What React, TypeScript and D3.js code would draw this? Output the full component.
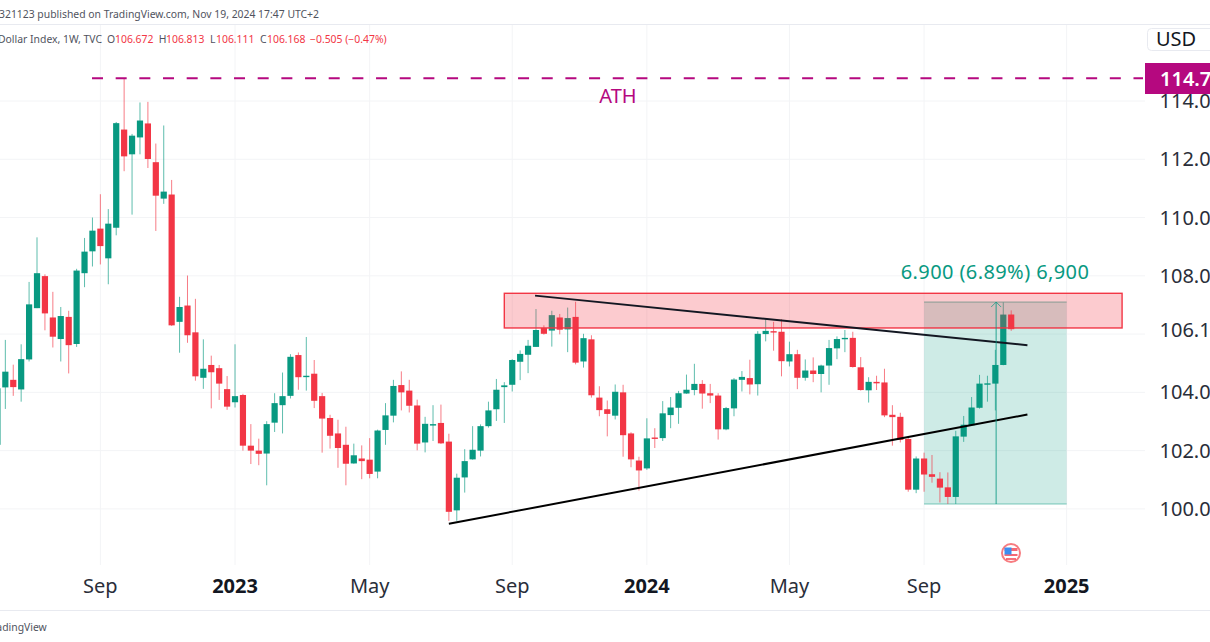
import React from 'react'
import * as d3 from 'd3'

const width = 1210
const height = 642

// weekly candles, DXY (first one is cut by the left edge)
const opens = [102.2,104.17,104.43,104.10,105.13,106.89,107.99,106.57,105.83,106.59,105.66,108.09,108.84,109.62,108.60,109.65,113.02,112.17,112.75,113.23,111.90,110.65,110.79,106.42,106.98,106.06,104.50,104.94,104.83,104.11,103.66,103.91,102.17,102.00,101.90,102.96,103.56,103.88,105.28,104.53,104.64,103.87,103.12,102.59,102.20,101.56,101.73,101.69,101.28,102.71,103.20,104.25,104.06,103.55,102.28,102.86,102.95,102.31,99.95,101.08,101.70,102.00,102.84,103.42,104.18,104.26,105.05,105.29,105.56,106.21,106.12,106.57,106.16,106.59,105.06,105.82,103.82,103.42,103.20,104.00,102.59,101.66,101.39,102.45,102.43,103.22,103.47,103.96,104.08,104.29,103.97,103.89,102.73,103.45,104.43,104.49,104.28,106.00,106.10,106.08,105.06,105.31,104.50,104.75,104.63,104.92,105.51,105.85,105.87,104.86,104.07,104.36,104.34,103.23,103.16,102.40,100.66,101.73,101.19,101.04,100.74,100.41,102.48,102.87,103.47,104.29,104.30,104.94,106.672]
const highs = [104.14,105.80,104.95,105.65,107.79,109.32,108.05,107.45,106.93,106.80,108.24,109.30,110.00,110.80,110.29,113.28,114.78,112.87,113.95,113.97,112.54,113.16,111.29,107.28,108.01,107.21,105.82,105.26,104.94,104.56,105.65,103.95,102.91,102.41,103.01,103.97,104.68,105.31,105.37,105.90,105.11,103.98,103.23,103.06,102.82,102.24,102.18,102.43,102.72,103.63,104.43,104.72,104.43,103.75,103.16,103.56,103.58,102.58,101.21,102.05,102.84,102.90,103.68,104.46,104.35,105.14,105.44,105.80,106.86,106.30,106.80,106.69,106.91,107.11,106.01,105.96,104.21,103.72,104.27,104.26,102.63,101.79,103.11,102.77,103.70,103.84,104.05,104.61,104.98,104.42,104.29,103.97,103.50,104.49,104.73,105.12,106.10,106.51,106.42,106.51,105.74,105.46,105.13,105.20,104.95,105.80,105.92,106.14,106.08,105.21,104.52,104.57,104.81,103.56,103.30,102.48,101.80,101.93,101.85,101.26,101.25,102.68,103.19,103.84,104.60,104.57,105.46,107.09,106.813]
const lows = [102.16,103.43,103.88,103.68,105.06,106.89,106.13,105.54,105.06,104.65,105.56,107.61,108.32,108.39,107.71,109.39,111.59,110.10,112.17,111.70,109.54,110.47,106.28,105.36,105.70,104.40,104.12,103.45,103.74,103.40,103.48,102.00,101.54,101.50,100.81,102.64,102.59,103.79,104.09,104.06,103.46,101.93,102.07,101.41,100.81,101.55,101.02,101.05,101.05,102.20,102.97,103.38,103.31,102.01,101.94,102.33,102.23,99.59,99.59,100.56,101.69,101.80,102.79,103.02,102.95,104.03,104.42,104.66,105.56,105.98,105.57,105.99,105.38,104.96,104.85,103.82,103.18,102.49,103.07,101.79,101.43,100.63,101.34,102.09,102.33,102.77,102.92,103.95,103.90,103.44,103.63,102.38,102.70,103.18,104.03,103.93,103.89,105.75,105.43,104.55,104.89,104.11,104.40,104.35,104.00,104.26,105.14,105.38,104.85,104.06,103.65,104.08,103.15,102.17,102.28,100.59,100.54,100.59,100.90,100.22,100.17,100.17,102.30,102.87,103.44,103.68,103.38,104.93,106.111]
const closes = [104.14,104.71,104.18,105.14,107.02,108.09,106.71,105.91,106.62,105.62,108.18,108.83,109.55,109.02,109.79,113.24,112.10,112.81,113.33,112.01,110.75,110.89,106.30,106.93,105.96,104.55,104.81,104.69,104.30,103.51,103.87,102.17,102.00,101.89,102.91,103.63,103.87,105.22,104.52,104.57,103.71,103.10,102.51,102.09,101.55,101.84,101.64,101.20,102.69,103.21,104.22,104.00,103.54,102.24,102.92,102.91,102.25,99.90,101.07,101.64,102.03,102.84,103.38,104.09,104.24,105.11,105.32,105.60,106.14,106.01,106.65,106.15,106.55,105.02,105.86,103.90,103.39,103.26,104.02,102.53,101.70,101.32,102.42,102.41,103.28,103.48,103.97,104.09,104.29,103.96,103.89,102.73,103.46,104.44,104.53,104.27,106.01,106.11,106.08,105.07,105.31,104.50,104.75,104.63,104.92,105.52,105.83,105.87,104.87,104.08,104.36,104.31,103.21,103.15,102.37,100.66,101.73,101.18,101.10,100.73,100.41,102.49,102.89,103.48,104.30,104.31,104.94,106.67,106.168]

const priceTicks = [100, 102, 104, 106, 108, 110, 112, 114]
const priceLabels = ['100.0', '102.0', '104.0', '106.1', '108.0', '110.0', '112.0', '114.0']
const priceLabelAt = [100, 102, 104, 106.13, 108, 110, 112, 114]

const timeTicks = [13, 30, 47, 65, 82, 100, 117, 135]
const timeLabels = ['Sep', '2023', 'May', 'Sep', '2024', 'May', 'Sep', '2025']

const athPrice = 114.78
const zone = { from: 64, to: 142, top: 107.4, bottom: 106.21 }
const upperTrend = [[67.88, 107.32], [130.05, 105.62]]
const lowerTrend = [[57, 99.49], [130.05, 103.24]]
const measure = { from: 117, to: 135, at: 126.1, low: 100.17, high: 107.1 }

const GREEN = '#089981'
const RED = '#f23645'
const MAGENTA = '#b5087f'
const GREY = '#50535e'
const FONT = '"Noto Sans", sans-serif'
const SMALL = 10.4

// index -> pixel, one week is 7.92px
const x = d3.scaleLinear().domain([1, 128]).range([5.33, 1011.2])
const y = d3.scaleLinear().domain([100, 114]).range([508.9, 101])
const trendLine = d3.line<number[]>().x(d => x(d[0])).y(d => y(d[1]))

export default function App() {
  const candles = d3.range(opens.length)
  const bodyW = 6.2
  return (
    <svg width={width} height={height} viewBox={`0 0 ${width} ${height}`}
      style={{ position: 'absolute', left: 0, top: 0, background: '#fff', fontFamily: FONT }}>
      <text x={-1} y={18} fontSize={SMALL} fill={GREY}>321123 published on TradingView.com, Nov 19, 2024 17:47 UTC+2</text>
      <line x1={0} x2={width} y1={24.5} y2={24.5} stroke="#e8eaf0" />

      {timeTicks.map(t => (
        <line key={t} x1={x(t)} x2={x(t)} y1={25} y2={565} stroke="#f3f4f6" />
      ))}
      {priceTicks.map(p => (
        <line key={p} x1={0} x2={1145} y1={y(p)} y2={y(p)} stroke="#f3f4f6" />
      ))}

      <text x={-2} y={42.5} fontSize={SMALL} fill={GREY}>Dollar Index, 1W, TVC</text>
      <text y={42.5} fontSize={SMALL}>
        <tspan x={107} fill={GREY}>O</tspan><tspan x={115} fill={RED}>106.672</tspan>
        <tspan x={158.7} fill={GREY}>H</tspan><tspan x={166} fill={RED}>106.813</tspan>
        <tspan x={210} fill={GREY}>L</tspan><tspan x={216} fill={RED}>106.111</tspan>
        <tspan x={260} fill={GREY}>C</tspan><tspan x={267} fill={RED}>106.168</tspan>
        <tspan x={310} fill={RED}>−0.505 (−0.47%)</tspan>
      </text>

      {/* measure box sits under the candles */}
      <rect x={x(measure.from)} width={x(measure.to) - x(measure.from)} y={y(measure.high)}
        height={y(measure.low) - y(measure.high)} fill={GREEN} fillOpacity={0.2} />
      <line x1={x(measure.from)} x2={x(measure.to)} y1={y(measure.high)} y2={y(measure.high)} stroke={GREEN} strokeOpacity={0.6} />
      <line x1={x(measure.from)} x2={x(measure.to)} y1={y(measure.low)} y2={y(measure.low)} stroke={GREEN} strokeOpacity={0.35} strokeWidth={1.5} />

      {candles.map(i => {
        const up = closes[i] >= opens[i]
        const color = up ? GREEN : RED
        const top = y(Math.max(opens[i], closes[i]))
        const bot = y(Math.min(opens[i], closes[i]))
        return (
          <g key={i}>
            <line x1={x(i)} x2={x(i)} y1={y(highs[i])} y2={y(lows[i])} stroke={color} strokeOpacity={0.65} />
            <rect x={x(i) - bodyW / 2} y={top} width={bodyW} height={Math.max(bot - top, 1.4)} fill={color} />
          </g>
        )
      })}

      <rect x={x(zone.from)} width={x(zone.to) - x(zone.from)} y={y(zone.top)} height={y(zone.bottom) - y(zone.top)}
        fill={RED} fillOpacity={0.26} stroke={RED} strokeWidth={1.4} />

      <path d={trendLine(upperTrend) ?? ''} fill="none" stroke="#131722" strokeWidth={2} />
      <path d={trendLine(lowerTrend) ?? ''} fill="none" stroke="#000" strokeWidth={2} />

      <line x1={x(measure.at)} x2={x(measure.at)} y1={y(measure.high)} y2={y(measure.low)} stroke={GREEN} strokeOpacity={0.7} strokeWidth={1.2} />
      <path d={`M${x(measure.at) - 5},${y(measure.high) + 5}L${x(measure.at)},${y(measure.high)}L${x(measure.at) + 5},${y(measure.high) + 5}`}
        fill="none" stroke={GREEN} strokeOpacity={0.7} />
      <text x={995} y={279} textAnchor="middle" fontSize={20} fill={GREEN} letterSpacing={0.4}>6.900 (6.89%) 6,900</text>

      <line x1={92} x2={1143} y1={y(athPrice)} y2={y(athPrice)} stroke={MAGENTA} strokeWidth={2} strokeDasharray="11 12.67" />
      <text x={618} y={103} textAnchor="middle" fontSize={20} fill={MAGENTA}>ATH</text>

      {/* earnings flag */}
      <g transform="translate(1011,553)">
        <circle r={9} fill="#fff" stroke="#f77c80" strokeWidth={2} />
        <path d="M-6.5,-5H6.5V-2H-6.5ZM-6.5,1H6.5V3H-6.5Z" fill="#f23645" fillOpacity={0.75} />
        <rect x={-6.5} y={-5.5} width={7} height={7} fill="#3d8df0" />
        <path d="M-5,5H5V7H-5Z" fill="#f23645" fillOpacity={0.7} />
      </g>

      {/* price axis */}
      <rect x={1145} y={25} width={65} height={585} fill="#fff" />
      <rect x={1147.5} y={28.5} width={70} height={22} rx={4} fill="#fff" stroke="#e8eaf0" />
      <text x={1156} y={46} fontSize={20} fill="#131722">USD</text>
      {priceLabels.map((label, i) => (
        <text key={label} x={1159.5} y={y(priceLabelAt[i]) + 7} fontSize={20} fill="#2a2e39">{label}</text>
      ))}
      <rect x={1145} y={63} width={65} height={31} fill={MAGENTA} />
      <text x={1160} y={86} fontSize={20} fontWeight={600} fill="#fff">114.7</text>

      {/* time axis */}
      {timeLabels.map((label, i) => {
        const isYear = /^\d/.test(label)
        return (
          <text key={i} x={x(timeTicks[i])} y={592.5} textAnchor="middle" fontSize={20}
            fontWeight={isYear ? 700 : 400} fill={isYear ? '#131722' : '#2a2e39'}>{label}</text>
        )
      })}
      <line x1={0} x2={width} y1={610.5} y2={610.5} stroke="#e8eaf0" />
      <text x={-13} y={630.5} fontSize={SMALL} fill={GREY}>TradingView</text>
    </svg>
  )
}
